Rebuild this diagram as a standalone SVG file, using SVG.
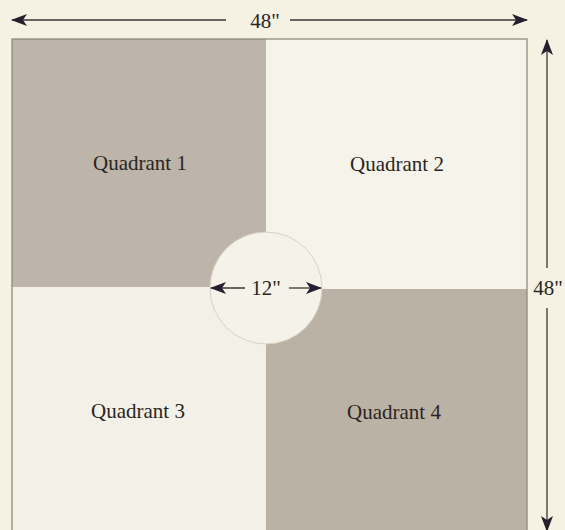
<svg xmlns="http://www.w3.org/2000/svg" width="565" height="530" viewBox="0 0 565 530">
<style>
.lbl{font-family:"Liberation Serif","DejaVu Serif",serif;font-size:21px;fill:#2a2522;text-anchor:middle}
.dim{stroke:#3a3535;stroke-width:1.3;fill:none}
</style>
<defs>
<marker id="ah" viewBox="0 0 16 12" refX="15" refY="6" markerWidth="16" markerHeight="12" markerUnits="userSpaceOnUse" orient="auto">
<path d="M0,0 L16,6 L0,12 L4,6 Z" fill="#26202e"/>
</marker>
</defs>
<rect x="0" y="0" width="565" height="530" fill="#f5f1e3"/>
<g id="quadrant1"><rect x="12" y="39" width="254" height="248" fill="#bdb5a9"/><text class="lbl" x="140" y="170" font-family="Liberation Serif, serif">Quadrant 1</text></g>
<g id="quadrant2"><rect x="266" y="39" width="261" height="250" fill="#f6f3ea"/><text class="lbl" x="397" y="171" font-family="Liberation Serif, serif">Quadrant 2</text></g>
<g id="quadrant3"><rect x="12" y="287" width="254" height="250" fill="#f3f0e7"/><text class="lbl" x="138" y="418" font-family="Liberation Serif, serif">Quadrant 3</text></g>
<g id="quadrant4"><rect x="266" y="289" width="261" height="248" fill="#bbb2a6"/><text class="lbl" x="394" y="419" font-family="Liberation Serif, serif">Quadrant 4</text></g>
<rect x="12" y="39" width="515" height="500" fill="none" stroke="#8c8178" stroke-width="1.2"/>
<g id="center-circle"><circle cx="266" cy="288" r="56" fill="#f5f2e9" stroke="#d8d2c6" stroke-width="1"/><text class="lbl" x="266" y="295" font-size="19" font-family="Liberation Serif, serif">12"</text></g>
<g id="connectors">
<line class="dim" x1="245" y1="288" x2="211" y2="288" marker-end="url(#ah)"/>
<line class="dim" x1="289" y1="288" x2="321" y2="288" marker-end="url(#ah)"/>
<line class="dim" x1="226" y1="20" x2="12" y2="20" marker-end="url(#ah)"/>
<line class="dim" x1="290" y1="20" x2="527" y2="20" marker-end="url(#ah)"/>
<line class="dim" x1="547" y1="268" x2="547" y2="40" marker-end="url(#ah)"/>
<line class="dim" x1="547" y1="308" x2="547" y2="531" marker-end="url(#ah)"/>
</g>
<text class="lbl" x="265" y="28" font-size="19" font-family="Liberation Serif, serif">48"</text>
<text class="lbl" x="548" y="295" font-size="19" font-family="Liberation Serif, serif">48"</text>
</svg>
